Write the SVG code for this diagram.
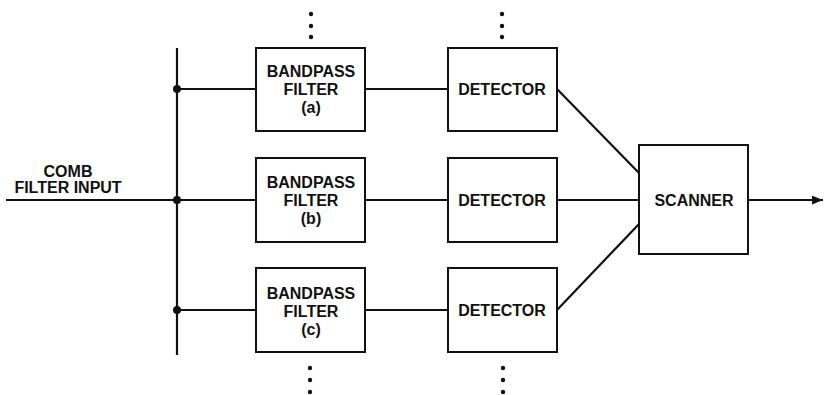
<svg xmlns="http://www.w3.org/2000/svg" width="824" height="395" viewBox="0 0 824 395">
<style>
.box{fill:#fff;stroke:#111;stroke-width:2}
.ln{stroke:#111;stroke-width:2.2;fill:none}
.t{font-family:"Liberation Sans",Arial,sans-serif;font-weight:bold;font-size:16px;fill:#111;text-anchor:middle}
.dot{fill:#111}
</style>
<defs>
<marker id="arr" viewBox="0 0 10 8" refX="10" refY="4" markerWidth="11" markerHeight="9" markerUnits="userSpaceOnUse" orient="auto">
<path d="M0,0 L10,4 L0,8 Z" fill="#111"/>
</marker>
</defs>
<rect width="824" height="395" fill="#fff"/>
<g id="connectors">
<line class="ln" x1="177" y1="48" x2="177" y2="355"/>
<line class="ln" x1="6" y1="200" x2="177" y2="200"/>
<line class="ln" x1="177" y1="89" x2="256" y2="89"/>
<line class="ln" x1="177" y1="200" x2="256" y2="200"/>
<line class="ln" x1="177" y1="310" x2="256" y2="310"/>
<line class="ln" x1="365" y1="89" x2="448" y2="89"/>
<line class="ln" x1="365" y1="200" x2="448" y2="200"/>
<line class="ln" x1="365" y1="310" x2="448" y2="310"/>
<line class="ln" x1="557" y1="89" x2="639" y2="173"/>
<line class="ln" x1="557" y1="200" x2="639" y2="200"/>
<line class="ln" x1="557" y1="310" x2="639" y2="224"/>
<line class="ln" x1="748" y1="200" x2="823" y2="200" marker-end="url(#arr)"/>
<circle class="dot" cx="177" cy="89" r="4"/>
<circle class="dot" cx="177" cy="200" r="4"/>
<circle class="dot" cx="177" cy="310" r="4"/>
</g>
<g id="input-label">
<text class="t" x="68" y="177">COMB</text>
<text class="t" x="68" y="193">FILTER INPUT</text>
</g>
<g id="filter-a">
<rect class="box" x="256" y="48" width="109" height="83"/>
<text class="t" x="311" y="77">BANDPASS</text>
<text class="t" x="311" y="95">FILTER</text>
<text class="t" x="311" y="113" font-size="14.5">(a)</text>
</g>
<g id="filter-b">
<rect class="box" x="256" y="158" width="109" height="84"/>
<text class="t" x="311" y="188">BANDPASS</text>
<text class="t" x="311" y="206">FILTER</text>
<text class="t" x="311" y="224" font-size="14.5">(b)</text>
</g>
<g id="filter-c">
<rect class="box" x="256" y="268" width="109" height="84"/>
<text class="t" x="311" y="299">BANDPASS</text>
<text class="t" x="311" y="317">FILTER</text>
<text class="t" x="311" y="335" font-size="14.5">(c)</text>
</g>
<g id="detector-a">
<rect class="box" x="448" y="48" width="109" height="83"/>
<text class="t" x="502" y="95">DETECTOR</text>
</g>
<g id="detector-b">
<rect class="box" x="448" y="158" width="109" height="84"/>
<text class="t" x="502" y="206">DETECTOR</text>
</g>
<g id="detector-c">
<rect class="box" x="448" y="268" width="109" height="84"/>
<text class="t" x="502" y="316">DETECTOR</text>
</g>
<g id="scanner">
<rect class="box" x="639" y="145" width="109" height="109"/>
<text class="t" x="694" y="206">SCANNER</text>
</g>
<g id="ellipses">
<circle class="dot" cx="311" cy="14" r="2.2"/>
<circle class="dot" cx="311" cy="26" r="2.2"/>
<circle class="dot" cx="311" cy="37" r="2.2"/>
<circle class="dot" cx="502" cy="14" r="2.2"/>
<circle class="dot" cx="502" cy="26" r="2.2"/>
<circle class="dot" cx="502" cy="37" r="2.2"/>
<circle class="dot" cx="310" cy="368" r="2.2"/>
<circle class="dot" cx="310" cy="380" r="2.2"/>
<circle class="dot" cx="310" cy="392" r="2.2"/>
<circle class="dot" cx="503" cy="368" r="2.2"/>
<circle class="dot" cx="503" cy="380" r="2.2"/>
<circle class="dot" cx="503" cy="392" r="2.2"/>
</g>
</svg>
